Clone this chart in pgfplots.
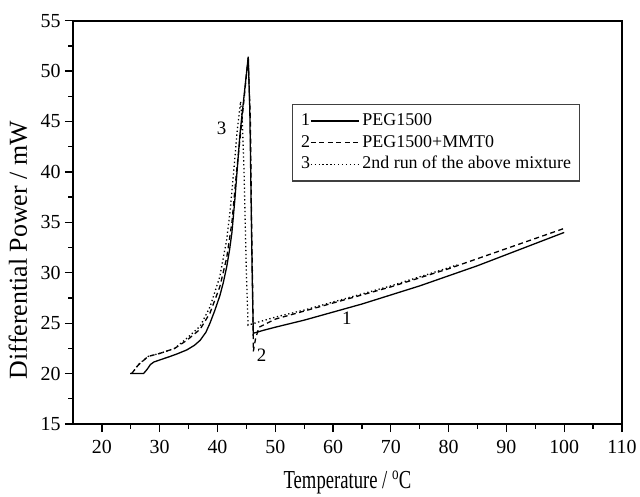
\documentclass[border=0pt]{standalone}
\usepackage{pgfplots}
\pgfplotsset{compat=1.18}
\usepackage{fontspec}
\setmainfont{Liberation Serif}
\usepackage{graphicx}
\pgfplotsset{
  legimg/.style={legend image code/.code={%
    \node[anchor=east,inner sep=0pt,font=\fontsize{18}{20}\selectfont] at (0pt,0pt) {#1};
    \draw[##1] (0pt,0pt) -- (48bp,0pt);}},
}
\begin{document}
\begin{tikzpicture}
\begin{axis}[name=ax,
  scale only axis, width=549bp, height=403.3bp,
  xmin=15, xmax=110, ymin=15, ymax=55,
  xtick={20,30,...,110}, ytick={15,20,...,55},
  minor x tick num=1, minor y tick num=1,
  tick pos=left, tick align=outside,
  major tick length=8bp, minor tick length=4.5bp,
  every tick/.style={black, line width=1.3bp},
  axis line style={line width=1.7bp},
  tick label style={font=\fontsize{20}{22}\selectfont},
  xticklabel style={yshift=-5bp},
  yticklabel style={xshift=-1bp},
  /pgf/number format/assume math mode=true,
  xlabel={\scalebox{0.72}[1]{Temperature / \textsuperscript{o}C}},
  xlabel style={font=\fontsize{26}{28}\selectfont, at={(axis description cs:0.5,-0.161)}, anchor=base},
  ylabel={Differential Power / mW},
  ylabel style={font=\fontsize{26}{28}\selectfont, at={(axis description cs:-0.084,0.431)}, anchor=base, rotate=0},
  legend style={at={(axis description cs:0.399,0.7935)}, anchor=north west,
    draw=black!75, line width=1.2bp, font=\fontsize{18}{20}\selectfont,
    inner xsep=8.5bp, inner ysep=8bp, row sep=4.7bp, column sep=3bp,
    nodes={inner sep=0pt, text height=13bp, text depth=4bp},
    cells={anchor=west}},
]
\addplot[black, line width=1.3bp, legimg=1] coordinates {
(24.9,20.0)(27.2,20.0)(27.8,20.4)(28.4,20.9)(29,21.15)(30,21.35)(31.8,21.7)(33,21.95)
(34.7,22.35)(36,22.8)(37,23.3)(38,24.1)(38.7,25.0)(39.5,26.2)(40.4,27.7)(41,29.0)
(41.6,30.6)(42.1,32.3)(42.5,34.0)(43,37.2)(43.9,43.8)(45.33,51.44)(45.6,46)(45.8,38)
(46.0,30)(46.2,24.0)(48,24.3)(50,24.6)(55,25.3)(60,26.1)(65,26.9)(70,27.8)(75,28.7)
(80,29.7)(85,30.7)(90,31.8)(95,32.9)(100,34.0)
};
\addlegendentry{PEG1500}
\addplot[black, line width=1.3bp, dash pattern=on 5bp off 3.5bp, legimg=2] coordinates {
(25.15,20.0)(26.3,20.85)(28,21.7)(30,22.0)(32.6,22.5)(34.7,23.3)(37,24.4)(38.7,26.0)
(40.4,28.6)(41.6,31.5)(42.5,35)(43.3,40)(44.3,45.5)(45.3,51.3)(45.7,45)(45.9,35)
(46.1,28)(46.2,22.2)(46.6,23.5)(47.2,24.6)(50,25.4)(55,26.2)(60,27.0)(65,27.8)
(70,28.6)(75,29.5)(80,30.4)(85,31.4)(90,32.4)(95,33.4)(100,34.4)
};
\addlegendentry{PEG1500+MMT0}
\addplot[black, line width=1.3bp, dash pattern=on 1.3bp off 2.6bp, legimg=3] coordinates {
(25.2,20.0)(26.3,20.9)(28,21.7)(30,22.0)(32.6,22.5)(34.7,23.5)(37,24.7)(38.7,26.6)
(40.4,29.6)(41.6,33.3)(42.2,36.2)(42.8,40)(43.4,44)(44.0,47.0)(44.3,45)(44.6,40)
(44.8,35)(45.0,30)(45.3,24.8)(47,25.1)(50,25.6)(55,26.3)(60,27.1)(65,27.9)(70,28.7)
(75,29.6)(80,30.5)(81.5,30.8)
};
\addlegendentry{2nd run of the above mixture}
\node[font=\fontsize{19}{21}\selectfont] at (axis cs:40.7,44.3) {3};
\node[font=\fontsize{19}{21}\selectfont] at (axis cs:47.65,21.85) {2};
\node[font=\fontsize{19}{21}\selectfont] at (axis cs:62.4,25.5) {1};
\end{axis}
\pgfresetboundingbox
\path[use as bounding box] ([shift={(-73bp,-72bp)}]ax.south west) rectangle ([shift={(18bp,20.7bp)}]ax.north east);
\end{tikzpicture}
\end{document}
